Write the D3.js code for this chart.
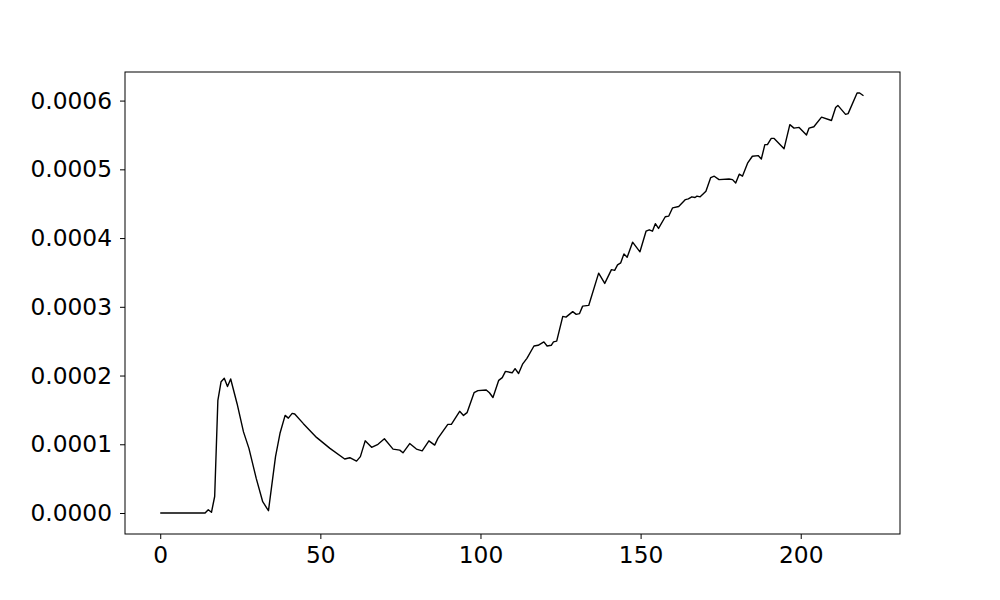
<!DOCTYPE html>
<html><head><meta charset="utf-8">
<script src="https://cdn.jsdelivr.net/npm/d3@7"></script>
<style>html,body{margin:0;padding:0;background:#fff;}</style>
</head><body><svg id="c" width="1000" height="600"></svg>
<script>
const xValues = [0,14,15,16,17,18,19,20,21,22,24,26,27.7,30,32,33.8,36,37.4,39,40,41.2,42,44.7,48.8,53,57.6,59.2,61.3,62.5,64,66,68,70,72.7,74.8,75.8,77.9,80,81.8,83.9,85.7,86.7,89.8,90.9,93.5,94.7,95.8,98,99.2,101.8,102.8,103.9,105.7,106.8,107.8,109.9,110.8,111.9,113.2,114.5,116.7,118,119.8,120.8,122.1,122.8,123.8,125.7,126.7,128.8,129.9,130.9,131.9,133.8,136.9,138.8,140.9,141.9,142.8,143.8,144.8,145.8,147.5,149.8,151.7,152.7,153.7,154.6,155.6,157.7,158.8,160,161.9,164,164.9,166,167,167.6,168.6,170.4,171.9,173,174.5,177.6,178.7,179.7,180.8,181.8,183.4,184.9,186.7,187.7,188.8,189.6,190.8,191.7,194.8,196.6,197.9,199.5,201.8,202.6,204.1,206.5,209.6,210.9,211.6,214,214.8,217.6,218.4,219.6];
const yValues = [0,0,0.0000048,0.000001,0.000024,0.000164,0.000191,0.000196,0.000184,0.000195,0.000159,0.000118,0.000094,0.00005,0.0000164,0.0000033,0.000082,0.000116,0.000142,0.000138,0.000145,0.000144,0.00013,0.00011,0.000094,0.0000785,0.0000804,0.0000755,0.000082,0.000105,0.0000955,0.0001,0.000108,0.000093,0.0000915,0.0000876,0.000101,0.000093,0.0000905,0.000105,0.0000988,0.0001085,0.000129,0.000129,0.000148,0.000142,0.000146,0.000175,0.000178,0.000179,0.000175,0.000168,0.000193,0.000197,0.000206,0.000204,0.00021,0.000203,0.000217,0.000225,0.000243,0.000244,0.000249,0.000243,0.000244,0.000249,0.00025,0.000286,0.000285,0.000293,0.000289,0.00029,0.000301,0.000302,0.000349,0.000334,0.000354,0.000353,0.000361,0.000364,0.000377,0.000372,0.000394,0.00038,0.00041,0.000412,0.00041,0.000421,0.000414,0.000431,0.000432,0.000444,0.000446,0.000456,0.000457,0.00046,0.000459,0.000461,0.00046,0.000468,0.000488,0.00049,0.000485,0.000486,0.000485,0.00048,0.000493,0.00049,0.000509,0.000519,0.00052,0.000515,0.000536,0.000536,0.000545,0.000545,0.00053,0.000565,0.00056,0.000561,0.00055,0.00056,0.000562,0.000576,0.000571,0.00059,0.000593,0.00058,0.000581,0.000611,0.000611,0.000607];
const xTicks = [0,50,100,150,200];
const yTicks = [0,0.0001,0.0002,0.0003,0.0004,0.0005,0.0006];

const L=125,R=900,T=72,B=534;
const svg=d3.select("#c");
const x=d3.scaleLinear().domain([-11,231]).range([L,R]);
const y=d3.scaleLinear().domain([-0.00003055,0.0006416]).range([B,T]);
const data=xValues.map((v,i)=>[v,yValues[i]]);

svg.append("path").datum(data)
  .attr("fill","none").attr("stroke","#000").attr("stroke-width",1.4)
  .attr("stroke-linejoin","round")
  .attr("d",d3.line().x(d=>x(d[0])).y(d=>y(d[1])));

svg.append("rect").attr("x",L).attr("y",T).attr("width",R-L).attr("height",B-T)
  .attr("fill","none").attr("stroke","#000").attr("stroke-width",1);

const font="DejaVu Sans, sans-serif";
const gx=svg.append("g").attr("transform",`translate(0,${B})`)
  .call(d3.axisBottom(x).tickValues(xTicks).tickSize(5).tickPadding(7.5).tickFormat(d3.format("d")));
gx.select(".domain").remove();
gx.selectAll("text").attr("font-family",font).attr("font-size",23.3).attr("fill","#000");
gx.selectAll("line").attr("stroke","#000");

const gy=svg.append("g").attr("transform",`translate(${L},0)`)
  .call(d3.axisLeft(y).tickValues(yTicks).tickSize(5).tickPadding(8).tickFormat(d3.format(".4f")));
gy.select(".domain").remove();
gy.selectAll("text").attr("font-family",font).attr("font-size",23.3).attr("fill","#000");
gy.selectAll("line").attr("stroke","#000");
</script>
</body></html>
